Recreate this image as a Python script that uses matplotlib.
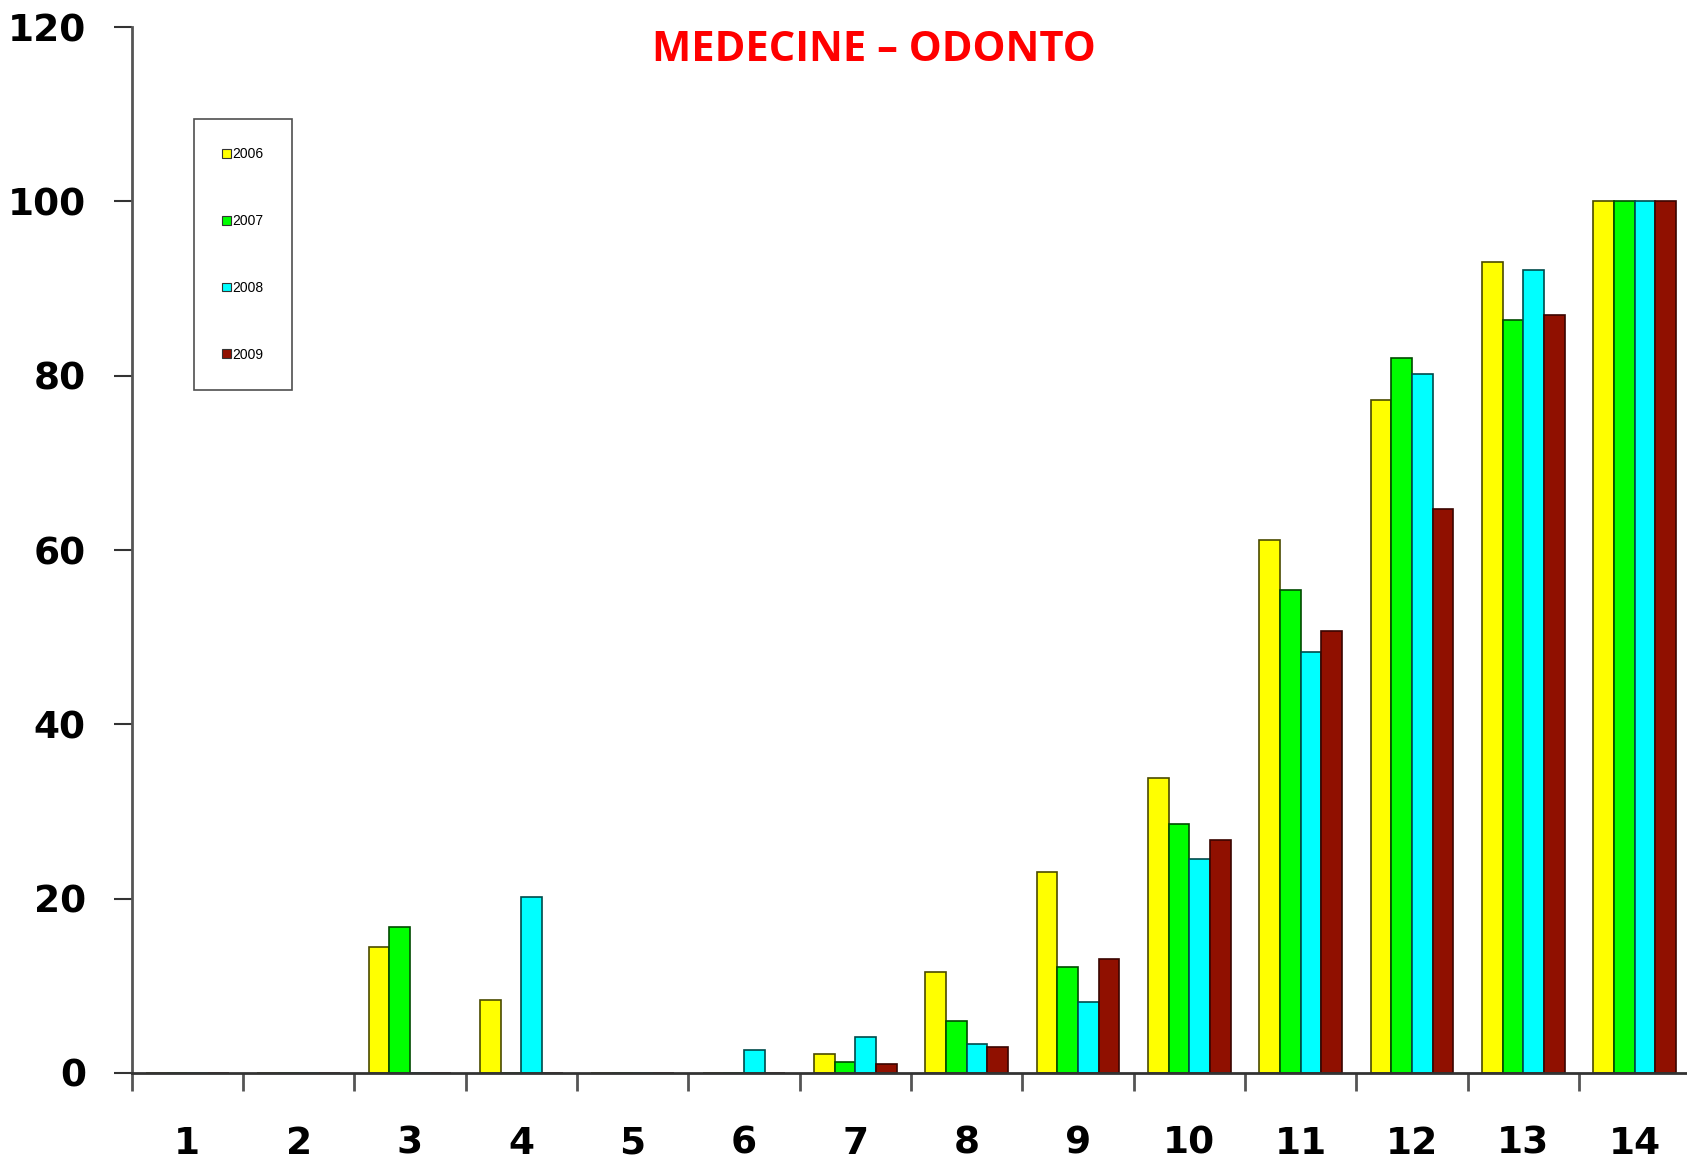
import numpy as np
import matplotlib.pyplot as plt
from matplotlib.patches import Patch

# values
categories = list(range(1, 15))
years = ['2006', '2007', '2008', '2009']
v2006 = [0, 0, 14.4, 8.4, 0, 0, 2.2, 11.6, 23.0, 33.8, 61.1, 77.2, 93.0, 100]
v2007 = [0, 0, 16.8, 0, 0, 0, 1.2, 6.0, 12.1, 28.6, 55.4, 82.0, 86.4, 100]
v2008 = [0, 0, 0, 20.2, 0, 2.6, 4.1, 3.3, 8.1, 24.6, 48.3, 80.2, 92.1, 100]
v2009 = [0, 0, 0, 0, 0, 0, 1.0, 3.0, 13.1, 26.7, 50.7, 64.7, 87.0, 100]
colors = ['#ffff00', '#00ff00', '#00ffff', '#901000']
edges = ['#4a4a00', '#004a00', '#004a4a', '#3a0500']

fig = plt.figure(figsize=(16.87, 11.66), dpi=100)
ax = fig.add_axes([0.078, 0.0798, 0.924, 0.897])

x = np.array(categories)
w = 0.186
series = [v2006, v2007, v2008, v2009]
for i, vals in enumerate(series):
    ax.bar(x + (i - 1.5) * w, vals, w, color=colors[i], edgecolor=edges[i],
           linewidth=1.2, zorder=2)

ax.set_xlim(0.5, 14.5)
ax.set_ylim(0, 120)
ax.set_yticks([0, 20, 40, 60, 80, 100, 120])
ax.set_xticks(x)
ax.set_xticks(np.arange(0.5, 14.5, 1), minor=True)

ax.spines['top'].set_visible(False)
ax.spines['right'].set_visible(False)
ax.spines['left'].set_color('#555555')
ax.spines['left'].set_linewidth(2)
ax.spines['bottom'].set_color('#333333')
ax.spines['bottom'].set_linewidth(2)

tick_font = {'family': 'DejaVu Sans', 'weight': 'heavy', 'size': 27}
ax.tick_params(axis='y', direction='out', length=13, width=1.5, color='#333333', pad=20)
ax.tick_params(axis='x', which='major', length=0, pad=38)
ax.tick_params(axis='x', which='minor', direction='out', length=13, width=2, color='#555555')
ax.set_yticklabels([str(v) for v in [0, 20, 40, 60, 80, 100, 120]], fontdict=tick_font)
ax.set_xticklabels([str(c) for c in categories], fontdict=tick_font)

fig.text(0.518, 0.957, 'MEDECINE \u2013 ODONTO', color='red', fontsize=30,
         fontweight='bold', family='Open Sans', ha='center', va='center')

handles = [Patch(facecolor=c, edgecolor='#333333', linewidth=0.8) for c in colors]
leg = ax.legend(handles, years, loc='upper left', bbox_to_anchor=(187 / 1687, 1 - 112 / 1166),
                bbox_transform=fig.transFigure, handlelength=0.6, handleheight=0.6,
                prop={'family': 'Liberation Sans', 'size': 10},
                handletextpad=0.1, labelspacing=3.8, borderpad=2.05, fancybox=False,
                frameon=True, edgecolor='#222222', shadow=False)
leg.get_frame().set_linewidth(1.2)

fig.savefig('out.png', dpi=100)
